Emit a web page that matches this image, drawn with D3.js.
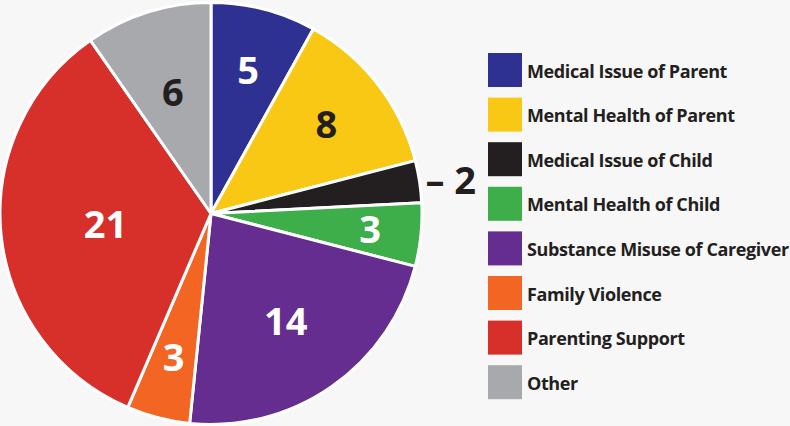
<!DOCTYPE html>
<html>
<head>
<meta charset="utf-8">
<script src="https://cdn.jsdelivr.net/npm/d3@7"></script>
<style>
  body { margin: 0; background: #f7f7f7; }
  svg { display: block; }
</style>
</head>
<body>
<svg class="pie"></svg>
<script>
const width = 790;
const height = 426;

// data
const categories = ['Medical Issue of Parent', 'Mental Health of Parent', 'Medical Issue of Child',
    'Mental Health of Child', 'Substance Misuse of Caregiver', 'Family Violence',
    'Parenting Support', 'Other'];
const counts = [5, 8, 2, 3, 14, 3, 21, 6];
const colors = ['#2e3192', '#f9c814', '#231f20', '#3eae4b', '#662d91', '#f26522', '#d7302a', '#a7a9ac'];
const labelColors = ['#fff', '#231f20', '#231f20', '#fff', '#fff', '#fff', '#fff', '#231f20'];

// label distance from the centre for each slice (null = outside label)
const labelRadius = [148, 146, null, 160, 131, 149, 106, 127];

const cx = 211;
const cy = 213.5;
const radius = 211;

const svg = d3.select('.pie')
    .attr('width', width)
    .attr('height', height);

svg.append('rect')
    .attr('width', width)
    .attr('height', height)
    .attr('fill', '#f7f7f7');

const pie = d3.pie().sort(null).value(d => d)(counts);
const arc = d3.arc().innerRadius(0).outerRadius(radius);

const g = svg.append('g')
    .attr('transform', `translate(${cx},${cy})`);

g.selectAll('path')
    .data(pie).enter()
    .append('path')
    .attr('d', arc)
    .attr('fill', (d, i) => colors[i])
    .attr('stroke', '#ffffff')
    .attr('stroke-width', 3)
    .attr('stroke-linejoin', 'round');

// slice labels
g.selectAll('text.val')
    .data(pie).enter()
    .append('text')
    .attr('class', 'val')
    .attr('font-family', '"Open Sans", sans-serif')
    .attr('font-weight', 700)
    .attr('font-size', 38)
    .attr('fill', (d, i) => labelColors[i])
    .attr('dy', '0.36em')
    .attr('text-anchor', (d, i) => labelRadius[i] ? 'middle' : 'start')
    .attr('transform', (d, i) => {
        const a = (d.startAngle + d.endAngle) / 2;
        const r = labelRadius[i] || radius + 6;
        return `translate(${r * Math.sin(a)},${-r * Math.cos(a)})`;
    })
    .text((d, i) => labelRadius[i] ? d.value : '\u2013 ' + d.value);

// legend
const legend = svg.append('g')
    .attr('transform', 'translate(488,53)');

const rows = legend.selectAll('g')
    .data(categories).enter()
    .append('g')
    .attr('transform', (d, i) => `translate(0,${i * 44.6})`);

rows.append('rect')
    .attr('width', 34)
    .attr('height', 34)
    .attr('fill', (d, i) => colors[i]);

rows.append('text')
    .attr('x', 39)
    .attr('y', 24.5)
    .attr('font-family', '"Open Sans", sans-serif')
    .attr('font-weight', 700)
    .attr('font-size', 18)
    .attr('letter-spacing', -0.4)
    .attr('fill', '#231f20')
    .text(d => d);
</script>
</body>
</html>
